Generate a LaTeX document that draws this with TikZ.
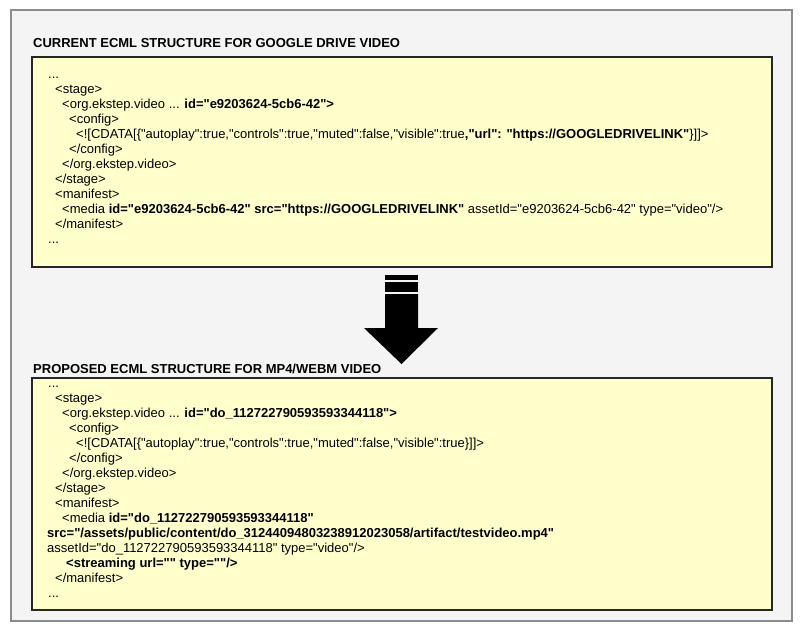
\documentclass[tikz,border=0pt]{standalone}
\usepackage{fontspec}
\setmainfont{Liberation Sans}[Ligatures=TeXOff]
\usepackage{tikz}
\usepackage{xcolor}
\definecolor{paneback}{HTML}{F4F4F4}
\definecolor{paneline}{HTML}{8C8C8C}
\definecolor{codeback}{HTML}{FFFFCC}

\begin{document}
\begin{tikzpicture}[x=1pt,y=-1pt,
	ttl/.style={anchor=base west,inner sep=0pt,font=\fontsize{13}{15}\selectfont\bfseries},
	code/.style={anchor=base west,inner sep=0pt,font=\fontsize{13}{15}\selectfont},
	codebox/.style={fill=codeback,draw=black!85,line width=1.6pt}]
	\useasboundingbox (0,0) rectangle (802,632);
	\filldraw [fill=paneback,draw=paneline,line width=1.5pt] (11,10) rectangle (792,621);
	\node[ttl] (curtitle) at (33,47.5) {CURRENT ECML STRUCTURE FOR GOOGLE DRIVE VIDEO};
	\draw [codebox] (32,57) rectangle (772,267);
	\node[code] (c1) at (48,78) {...};
	\node[code] (c2) at (55,93) {<stage>};
	\node[code] (c3) at (62,108) {<org.ekstep.video ... \textbf{id="e9203624-5cb6-42">}};
	\node[code] (c4) at (69,123) {<config>};
	\node[code] (c5) at (76,138) {<![CDATA[\{"autoplay":true,"controls":true,"muted":false,"visible":true\textbf{,"url": "https://GOOGLEDRIVELINK"}\}]]>};
	\node[code] (c6) at (69,153) {</config>};
	\node[code] (c7) at (62,168) {</org.ekstep.video>};
	\node[code] (c8) at (55,183) {</stage>};
	\node[code] (c9) at (55,198) {<manifest>};
	\node[code] (c10) at (62,213) {<media \textbf{id="e9203624-5cb6-42" src="https://GOOGLEDRIVELINK"} assetId="e9203624-5cb6-42" type="video"/>};
	\node[code] (c11) at (55,228) {</manifest>};
	\node[code] (c12) at (48,243) {...};
	\fill [black] (385,275) rectangle (418,280);
	\fill [black] (385,282) rectangle (418,292);
	\fill [black] (385,294) -- (418,294) -- (418,328) -- (438,328) -- (401.5,364) -- (364,328) -- (385,328) -- cycle;
	\node[ttl] (proptitle) at (33,373) {PROPOSED ECML STRUCTURE FOR MP4/WEBM VIDEO};
	\draw [codebox] (32,378) rectangle (772,610);
	\node[code] (p1) at (48,387) {...};
	\node[code] (p2) at (55,402) {<stage>};
	\node[code] (p3) at (62,417) {<org.ekstep.video ... \textbf{id="do\_112722790593593344118">}};
	\node[code] (p4) at (69,432) {<config>};
	\node[code] (p5) at (76,447) {<![CDATA[\{"autoplay":true,"controls":true,"muted":false,"visible":true\}]]>};
	\node[code] (p6) at (69,462) {</config>};
	\node[code] (p7) at (62,477) {</org.ekstep.video>};
	\node[code] (p8) at (55,492) {</stage>};
	\node[code] (p9) at (55,507) {<manifest>};
	\node[code] (p10) at (62,522) {<media \textbf{id="do\_112722790593593344118"}};
	\node[code] (p11) at (47,537) {\textbf{src="/assets/public/content/do\_31244094803238912023058/artifact/testvideo.mp4"}};
	\node[code] (p12) at (47,552) {assetId="do\_112722790593593344118" type="video"/>};
	\node[code] (p13) at (66,567) {\textbf{<streaming url="" type=""/>}};
	\node[code] (p14) at (55,582) {</manifest>};
	\node[code] (p15) at (48,597) {...};
\end{tikzpicture}
\end{document}
